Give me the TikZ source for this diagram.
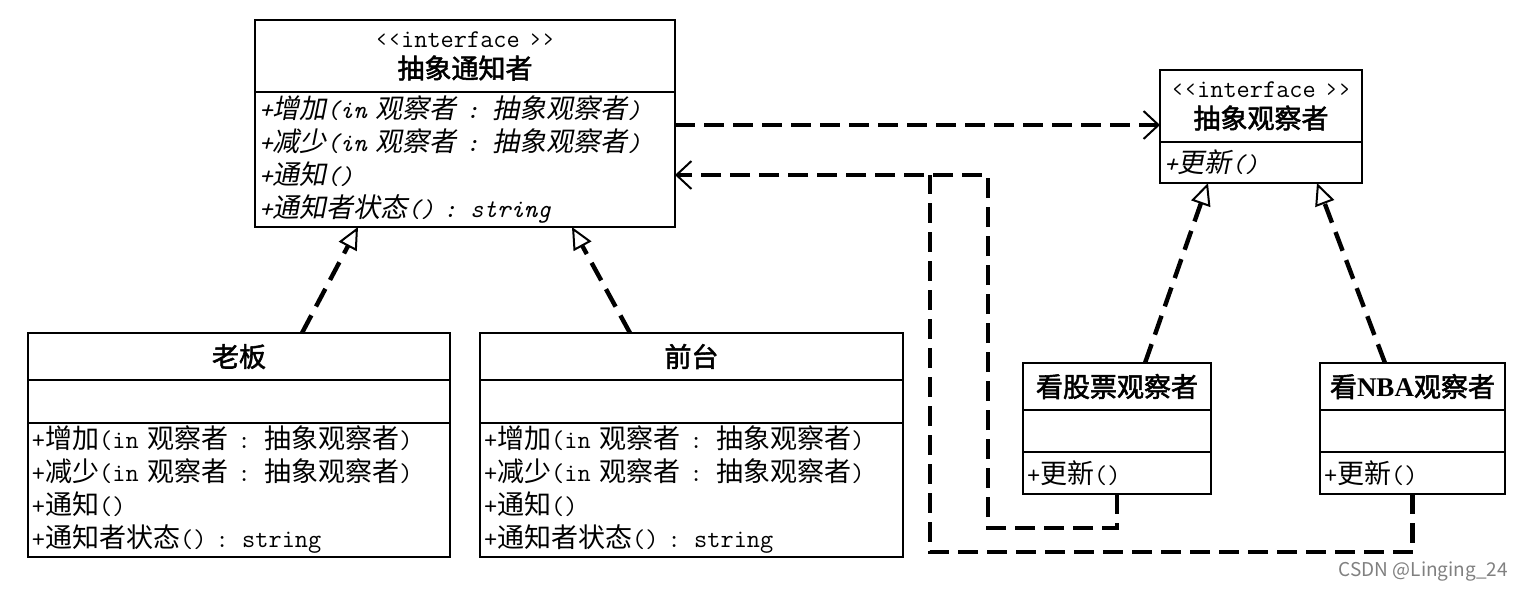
\documentclass[tikz,border=0pt]{standalone}
\usepackage{fontspec}
\setmainfont{Noto Sans CJK SC}[ItalicFont={Noto Sans CJK SC},ItalicFeatures={FakeSlant=0.2},
  BoldFont={Noto Sans CJK SC},BoldFeatures={FakeBold=2}]
\newfontfamily\nbafont{Liberation Serif}
\usetikzlibrary{arrows.meta,positioning,calc}
\newcommand{\lat}[1]{{\ttfamily\fontsize{12.8}{16.5}\selectfont #1}}

\begin{document}
\begin{tikzpicture}[x=0.5pt,y=-0.5pt,
  every node/.style={font=\fontsize{13.5}{16.5}\selectfont},
  hd/.style={draw,line width=1.1pt,outer sep=0pt,inner xsep=2pt,inner ysep=0pt,
    text width=#1,align=center},
  bd/.style={hd=#1,align=left},
  real/.style={line width=2.2pt,dash pattern=on 10pt off 5pt,
    -{Triangle[open,length=11pt,width=10pt,line width=1pt]}},
  dep/.style={line width=2.4pt,dash pattern=on 10pt off 4.5pt},
  barb/.style={-{Straight Barb[length=7.5pt,width=14pt,line width=1pt]}}]
\useasboundingbox (0,0) rectangle (1523,591);
% interfaces
\node[hd=206pt,minimum height=36pt,anchor=north west] (notif) at (255,20)
  {\lat{‹‹interface ››}\\[-1pt]\textbf{抽象通知者}};
\node[bd=206pt,minimum height=67.5pt,below=0pt of notif,
  font=\fontsize{13.5}{16.5}\selectfont\itshape] (notifm)
  {\lat{+}增加\lat{(in }观察者\lat{ : }抽象观察者\lat{)}\\
   \lat{+}减少\lat{(in }观察者\lat{ : }抽象观察者\lat{)}\\
   \lat{+}通知\lat{()}\\
   \lat{+}通知者状态\lat{() : string}};
\node[hd=97pt,minimum height=36pt,anchor=north west] (obs) at (1160,70)
  {\lat{‹‹interface ››}\\[-1pt]\textbf{抽象观察者}};
\node[bd=97pt,minimum height=20.5pt,below=0pt of obs,
  font=\fontsize{13.5}{16.5}\selectfont\itshape] (obsm)
  {\lat{+}更新\lat{()}};
% notifiers
\node[hd=207pt,minimum height=23.5pt,anchor=north west] (boss) at (28,333) {\textbf{老板}};
\node[bd=207pt,minimum height=21.5pt,below=0pt of boss] (bossa) {};
\node[bd=207pt,minimum height=67pt,below=0pt of bossa] (bossm)
  {\lat{+}增加\lat{(in }观察者\lat{ : }抽象观察者\lat{)}\\
   \lat{+}减少\lat{(in }观察者\lat{ : }抽象观察者\lat{)}\\
   \lat{+}通知\lat{()}\\
   \lat{+}通知者状态\lat{() : string}};
\node[hd=207.5pt,minimum height=23.5pt,anchor=north west] (desk) at (480,333) {\textbf{前台}};
\node[bd=207.5pt,minimum height=21.5pt,below=0pt of desk] (deska) {};
\node[bd=207.5pt,minimum height=67pt,below=0pt of deska] (deskm)
  {\lat{+}增加\lat{(in }观察者\lat{ : }抽象观察者\lat{)}\\
   \lat{+}减少\lat{(in }观察者\lat{ : }抽象观察者\lat{)}\\
   \lat{+}通知\lat{()}\\
   \lat{+}通知者状态\lat{() : string}};
% observers
\node[hd=90pt,minimum height=23.5pt,anchor=north west] (stock) at (1023,363) {\textbf{看股票观察者}};
\node[bd=90pt,minimum height=21pt,below=0pt of stock] (stocka) {};
\node[bd=90pt,minimum height=21pt,below=0pt of stocka] (stockm) {\lat{+}更新\lat{()}};
\node[hd=88.5pt,minimum height=23.5pt,anchor=north west] (nba) at (1320,363)
  {\textbf{看{\nbafont\bfseries NBA}观察者}};
\node[bd=88.5pt,minimum height=21pt,below=0pt of nba] (nbaa) {};
\node[bd=88.5pt,minimum height=21pt,below=0pt of nbaa] (nbam) {\lat{+}更新\lat{()}};
% realizations
\draw[real] ([xshift=31.5pt]boss.north) -- ([xshift=-53.5pt]notifm.south);
\draw[real] ([xshift=-30.75pt]desk.north) -- ([xshift=53.5pt]notifm.south);
\draw[real] ([xshift=14pt]stock.north) -- ([xshift=-26.5pt]obsm.south);
\draw[real] ([xshift=-13.75pt]nba.north) -- ([xshift=28pt]obsm.south);
% dependencies
\coordinate (d1) at ([yshift=17.25pt]notifm.east);
\coordinate (r1) at ([yshift=-7.75pt]notifm.east);
\coordinate (c1) at ([xshift=156.5pt]r1);
\coordinate (c2) at ([xshift=127.5pt]r1);
\draw[dep,barb] (d1) -- (obs.west |- d1);
\draw[dep,barb] (stockm.south) -- ++(0,-17pt) -| (c1) -- (r1);
\draw[dep] (nbam.south) -- ++(0,-29pt) -| (c2);
\node[font=\fontsize{9.5}{11}\selectfont,text=black!50,anchor=east] (mark) at (1515,571)
  {CSDN @Linging\_24};
\end{tikzpicture}
\end{document}
